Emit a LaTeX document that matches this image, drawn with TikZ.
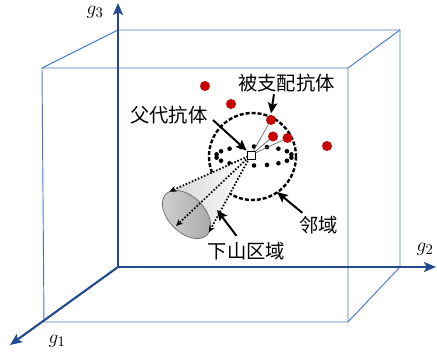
\documentclass[tikz,border=0pt]{standalone}
\usepackage{fontspec}
\newfontfamily\cjk{Noto Sans CJK SC}
\usetikzlibrary{arrows.meta}
\definecolor{axisblue}{RGB}{34,74,140}
\definecolor{boxblue}{RGB}{72,118,190}
\definecolor{dotred}{RGB}{200,0,0}
\begin{document}
\begin{tikzpicture}[x=0.75pt,y=-0.75pt,
  axis/.style={axisblue,line width=1.6pt,-{Stealth[length=9pt,width=7.5pt,inset=2pt]}},
  edge/.style={boxblue,line width=0.7pt},
  tag/.style={font=\cjk\fontsize{14.5}{16}\selectfont,inner sep=0pt},
  axlabel/.style={font=\fontsize{15}{15}\selectfont,inner sep=0pt},
  pointer/.style={black,line width=1.5pt,-{Stealth[length=8pt,width=7pt,inset=1.5pt]}},
  ray/.style={black,line width=1.3pt,dash pattern=on 1.2pt off 1.3pt,-{Stealth[length=5pt,width=4.5pt]}},
  spoke/.style={black!60,line width=0.5pt},
  nbhd/.style={black,line width=1.8pt,dash pattern=on 3pt off 1.5pt},
  red dot/.style={circle,fill=dotred,inner sep=0pt,minimum size=7.5pt},
  parent/.style={draw,fill=white,line width=0.6pt,inner sep=0pt,minimum size=6pt}]
\useasboundingbox (0,0) rectangle (437,353);

\draw[edge] (42,68) -- (348,68) -- (348,322) -- (44,322) -- cycle;
\draw[edge] (42,68) -- (118,30) -- (400,30) -- (400,267);
\draw[edge] (348,68) -- (400,30);
\draw[edge] (348,322) -- (400,267);

\coordinate (o) at (118,267);
\draw[axis] (o) -- (10,345);
\draw[axis] (o) -- (436,267);
\draw[axis] (o) -- (118,3);
\node[axlabel] (g1) at (57,341) {$g_1$};
\node[axlabel] (g2) at (425,249) {$g_2$};
\node[axlabel] (g3) at (95,12) {$g_3$};

\draw[nbhd] (252.5,156.5) circle (43.5);
\foreach \a in {10,30,...,350}
  \fill ({254+38*cos(\a)},{156+9.5*sin(\a)}) circle (2.3);

\coordinate (apex) at (251,155);
\coordinate (rim-a) at (169.5,191.6);
\coordinate (rim-b) at (176,226);
\coordinate (rim-c) at (208.9,232.4);
\shade[left color=black!16,right color=white] (apex) -- (rim-a) -- (rim-c) -- cycle;
\shade[left color=black!18,right color=black!34,draw=black!60,line width=0.5pt,
  rotate around={-45:(186.5,214.5)}] (186.5,214.5) ellipse [x radius=29,y radius=18];
\draw[ray] (apex) -- (rim-a);
\draw[ray] (apex) -- (rim-b);
\draw[ray] (apex) -- (rim-c);

\node[red dot] (d1) at (205,86) {};
\node[red dot] (d2) at (231,104) {};
\node[red dot] (d3) at (271,120) {};
\node[red dot] (d4) at (273,136.5) {};
\node[red dot] (d5) at (287.5,138) {};
\node[red dot] (d6) at (327,146) {};
\node[parent] (sq) at (apex) {};
\draw[spoke] (sq) -- (d3);
\draw[spoke] (sq) -- (d4);
\draw[spoke] (sq) -- (d5);

\node[tag] (dom) at (286.5,83) {被支配抗体};
\node[tag] (par) at (169,115) {父代抗体};
\node[tag] (nb) at (319,225) {邻域};
\node[tag] (down) at (246.5,251) {下山区域};
\coordinate (nb-tip) at (277,192);
\coordinate (down-tip) at (217,210);
\draw[pointer] ([shift={(-12.5,2)}]dom.south) -- ([yshift=1pt]d3.north);
\draw[pointer] ([shift={(5,5)}]par.east) -- (sq.north west);
\draw[pointer] ([shift={(3,-3)}]nb.north west) -- (nb-tip);
\draw[pointer] ([shift={(-10,-6)}]down.north) -- (down-tip);
\end{tikzpicture}
\end{document}
